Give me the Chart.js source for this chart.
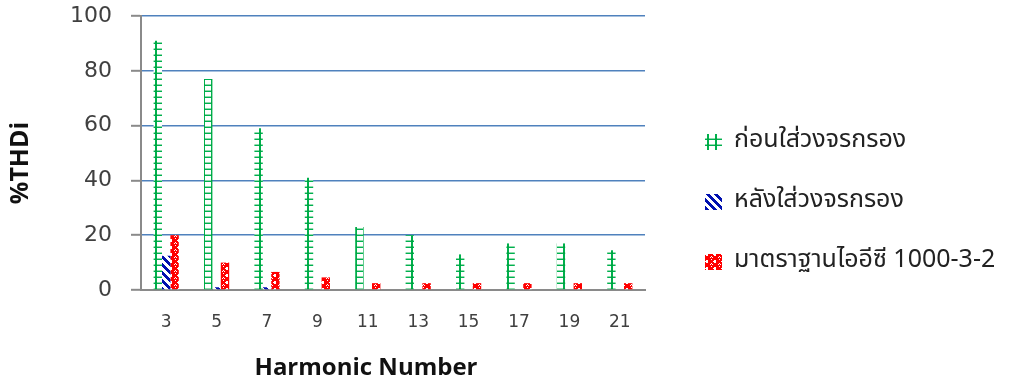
<!DOCTYPE html>
<html>
<head>
<meta charset="utf-8">
<script src="https://cdn.jsdelivr.net/npm/chart.js@4.4.1/dist/chart.umd.min.js"></script>
<style>
  html, body { margin: 0; padding: 0; background: #fff; overflow: hidden; }
  canvas { display: block; }
</style>
</head>
<body>
<canvas id="c" width="1011" height="381"></canvas>
<script>
// Harmonic orders and current distortion per harmonic (%)
const harmonics = ['3', '5', '7', '9', '11', '13', '15', '17', '19', '21'];
const beforeFilter = [91, 77, 59, 41, 23, 20, 13, 17, 17, 14.5];
const afterFilter = [12.5, 1, 1, 0, 0, 0, 0, 0, 0, 0];
const iecLimit = [20, 10, 6.6, 4.6, 2.5, 2.5, 2.5, 2.5, 2.5, 2.5];
const seriesNames = ['ก่อนใส่วงจรกรอง', 'หลังใส่วงจรกรอง', 'มาตราฐานไออีซี 1000-3-2'];
const yMin = 0, yMax = 100, yStep = 20;
const xTitle = 'Harmonic Number';
const yTitle = '%THDi';

// Build a repeating fill pattern from a small pixel map
function makePattern(rows, colors) {
  const h = rows.length, w = rows[0].length;
  const tile = document.createElement('canvas');
  tile.width = w; tile.height = h;
  const t = tile.getContext('2d');
  t.fillStyle = '#ffffff';
  t.fillRect(0, 0, w, h);
  for (let y = 0; y < h; y++) {
    for (let x = 0; x < w; x++) {
      const c = colors[rows[y][x]];
      if (c) { t.fillStyle = c; t.fillRect(x, y, 1, 1); }
    }
  }
  return document.getElementById('c').getContext('2d').createPattern(tile, 'repeat');
}

// "#" grid in green
const gridFill = makePattern([
  'lllGGlll',
  'hhhGGhhh',
  '...gg...',
  '...gg...',
  '...gg...',
  '...gg...'
], { g: '#00b04c', l: '#8fdcab', G: '#00a543', h: '#00b050' });

// wide downward diagonal in dark blue
const diagFill = makePattern([
  'bbbb....',
  '.bbbb...',
  '..bbbb..',
  '...bbbb.',
  '....bbbb',
  'b....bbb',
  'bb....bb',
  'bbb....b'
], { b: '#0010b0' });

// sphere / checker in red
const sphereFill = makePattern([
  'rrrrrrr.',
  'rr..rrrr',
  'r...rrrr',
  'rr..rrrr',
  'rrrrrrr.',
  '.rrrrr.r',
  'rrrrrrrr'
], { r: '#ff0000' });

const fills = [gridFill, diagFill, sphereFill];

// Legend and axis titles drawn onto the canvas
const decorations = {
  id: 'decorations',
  afterDraw(chart) {
    const ctx = chart.ctx;
    ctx.save();
    // y-axis title
    ctx.translate(21, 163);
    ctx.rotate(-Math.PI / 2);
    ctx.font = 'bold 25px "Open Sans", "DejaVu Sans", sans-serif';
    ctx.fillStyle = '#111';
    ctx.textAlign = 'center';
    ctx.textBaseline = 'middle';
    ctx.fillText(yTitle, 0, 0);
    ctx.restore();

    ctx.save();
    ctx.font = 'bold 24px "Open Sans", "DejaVu Sans", sans-serif';
    ctx.fillStyle = '#111';
    ctx.textAlign = 'center';
    ctx.textBaseline = 'alphabetic';
    ctx.fillText(xTitle, 366, 375);
    ctx.restore();

    // legend
    const rowsY = [142, 202, 262];
    chart.data.datasets.forEach((ds, i) => {
      const cy = rowsY[i];
      ctx.save();
      ctx.fillStyle = ds.backgroundColor;
      ctx.fillRect(705, cy - 8, 17, 16);
      ctx.font = '25px "Noto Sans Thai", "Tahoma", "Loma", "Garuda", "Noto Sans", "DejaVu Sans", sans-serif';
      ctx.fillStyle = '#222';
      ctx.textAlign = 'left';
      ctx.textBaseline = 'middle';
      ctx.fillText(ds.label, 734, cy);
      ctx.restore();
    });
  }
};

new Chart(document.getElementById('c'), {
  type: 'bar',
  data: {
    labels: harmonics,
    datasets: [
      { label: seriesNames[0], data: beforeFilter, backgroundColor: fills[0] },
      { label: seriesNames[1], data: afterFilter, backgroundColor: fills[1] },
      { label: seriesNames[2], data: iecLimit, backgroundColor: fills[2] }
    ]
  },
  options: {
    responsive: false,
    animation: false,
    devicePixelRatio: 1,
    layout: { padding: { top: 16, right: 366, bottom: 0, left: 0 } },
    datasets: { bar: { categoryPercentage: 0.5, barPercentage: 1.0, borderWidth: 0 } },
    plugins: {
      legend: { display: false },
      tooltip: { enabled: false }
    },
    scales: {
      x: {
        afterFit(scale) { scale.height = 91; },
        grid: { display: true, drawOnChartArea: false, drawTicks: false },
        border: { display: true, color: '#8a8a8a', width: 2 },
        ticks: {
          color: '#404040',
          font: { family: '"DejaVu Sans", sans-serif', size: 17 },
          padding: 22,
          maxRotation: 0
        }
      },
      y: {
        min: yMin,
        max: yMax,
        afterFit(scale) {
          scale.width = 141;
          scale.paddingTop = 0;
          scale.paddingBottom = 0;
        },
        grid: {
          color: (c) => (c.tick && c.tick.value === 0) ? 'rgba(0,0,0,0)' : '#4f81bd',
          lineWidth: 1.6,
          tickColor: '#8a8a8a',
          tickLength: 10,
          tickWidth: 2
        },
        border: { display: true, color: '#8a8a8a', width: 2 },
        ticks: {
          stepSize: yStep,
          color: '#404040',
          font: { family: '"DejaVu Sans", sans-serif', size: 22 },
          padding: 19
        }
      }
    }
  },
  plugins: [decorations]
});
</script>
</body>
</html>
